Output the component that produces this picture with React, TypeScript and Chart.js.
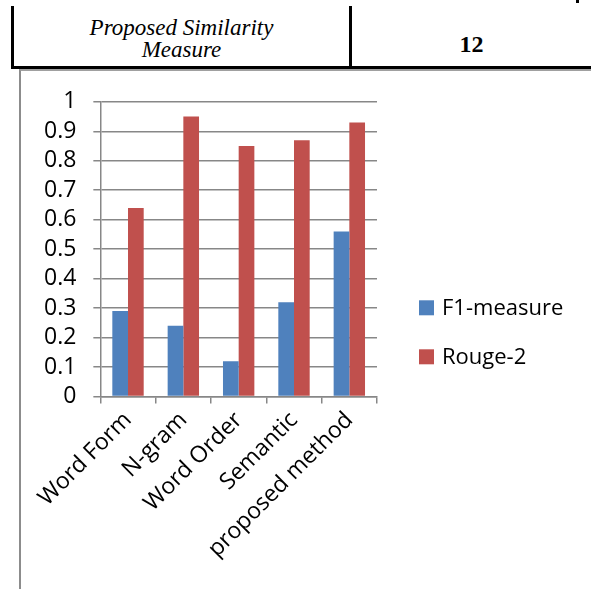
import React, { useEffect, useRef } from "react";
import { Chart, registerables } from "chart.js";

Chart.register(...registerables);

const categories = ["Word Form", "N-gram", "Word Order", "Semantic", "proposed method"];
const seriesNames = ["F1-measure", "Rouge-2"];
const f1Values = [0.29, 0.24, 0.12, 0.32, 0.56];
const rougeValues = [0.64, 0.95, 0.85, 0.87, 0.93];
const seriesColors = ["#4F81BD", "#C0504D"];
const yMin = 0;
const yMax = 1;
const yStep = 0.1;

const FONT = '"Open Sans", "DejaVu Sans", sans-serif';
const TICK_SIZE = 23;
const LEGEND_SIZE = 22;
const GRID = "#878787";

const sideLegend = {
  id: "sideLegend",
  afterDraw(chart: any, _args: any, opts: any) {
    const { ctx, chartArea } = chart;
    ctx.save();
    ctx.font = `${LEGEND_SIZE}px ${FONT}`;
    ctx.textBaseline = "middle";
    ctx.textAlign = "left";
    chart.data.datasets.forEach((ds: any, i: number) => {
      const y = chartArea.top + opts.top + i * opts.spacing;
      const x = chartArea.right + opts.left;
      ctx.fillStyle = ds.backgroundColor;
      ctx.fillRect(x, y - opts.box / 2, opts.box, opts.box);
      ctx.fillStyle = "#000";
      ctx.fillText(ds.label, x + opts.box + opts.gap, y + 1);
    });
    ctx.restore();
  },
};

function ChartBox() {
  const ref = useRef<HTMLCanvasElement | null>(null);
  useEffect(() => {
    if (!ref.current) return;
    const chart = new Chart(ref.current, {
      type: "bar",
      data: {
        labels: categories,
        datasets: [
          { label: seriesNames[0], data: f1Values, backgroundColor: seriesColors[0], borderWidth: 0 },
          { label: seriesNames[1], data: rougeValues, backgroundColor: seriesColors[1], borderWidth: 0 },
        ],
      },
      plugins: [sideLegend],
      options: {
        animation: false,
        responsive: false,
        maintainAspectRatio: false,
        devicePixelRatio: 1,
        layout: { padding: { left: 6, top: 15, right: 214, bottom: 23 } },
        datasets: { bar: { categoryPercentage: 0.567, barPercentage: 1 } },
        plugins: {
          legend: { display: false },
          tooltip: { enabled: false },
          sideLegend: { left: 42, top: 206, spacing: 49, box: 15, gap: 8 },
        } as any,
        scales: {
          x: {
            grid: { display: true, drawOnChartArea: false, offset: true, tickLength: 7, color: GRID, lineWidth: 1.5 },
            border: { display: true, color: GRID, width: 1.5 },
            ticks: { color: "#000", font: { family: FONT, size: TICK_SIZE }, maxRotation: 45, minRotation: 45, padding: 3, autoSkip: false },
            afterFit: (scale: any) => {
              scale.paddingLeft = 0;
              scale.paddingRight = 0;
            },
          },
          y: {
            min: yMin,
            max: yMax,
            grid: { color: GRID, tickLength: 7, lineWidth: 1.5 },
            border: { display: true, color: GRID, width: 1.5 },
            ticks: {
              stepSize: yStep,
              autoSkip: false,
              color: "#000",
              padding: 17,
              crossAlign: "near",
              font: { family: FONT, size: TICK_SIZE },
              callback: (v: any) => String(Math.round(Number(v) * 10) / 10),
            },
          },
        },
      },
    });
    return () => chart.destroy();
  }, []);
  return <canvas ref={ref} width={570} height={518} style={{ width: 570, height: 518, display: "block" }} />;
}

export default function App() {
  return (
    <div style={{ position: "absolute", left: 0, top: 0, width: 591, height: 589, background: "#fff", overflow: "hidden" }}>
      <div style={{ position: "absolute", left: 11, top: 6, width: 3, height: 62, background: "#000" }} />
      <div style={{ position: "absolute", left: 349, top: 6, width: 3, height: 62, background: "#000" }} />
      <div style={{ position: "absolute", left: 11, top: 66, width: 580, height: 2.5, background: "#000" }} />
      <div style={{ position: "absolute", left: 576, top: 0, width: 3, height: 3, background: "#000" }} />
      <div
        style={{
          position: "absolute", left: 14, top: 17, width: 335, textAlign: "center",
          fontFamily: '"Liberation Serif", "Times New Roman", serif', fontStyle: "italic", fontSize: 23, lineHeight: "22px",
        }}
      >
        Proposed Similarity
        <br />
        Measure
      </div>
      <div
        style={{
          position: "absolute", left: 352, top: 32, width: 239, textAlign: "center",
          fontFamily: '"Liberation Serif", "Times New Roman", serif', fontWeight: "bold", fontSize: 24, lineHeight: "24px",
        }}
      >
        12
      </div>
      <div
        style={{
          position: "absolute", left: 19, top: 69, width: 572, height: 520,
          borderLeft: "2px solid #8c8c8c", borderTop: "2px solid #a0a0a0", boxSizing: "border-box",
        }}
      />
      <div style={{ position: "absolute", left: 21, top: 71 }}>
        <ChartBox />
      </div>
    </div>
  );
}
